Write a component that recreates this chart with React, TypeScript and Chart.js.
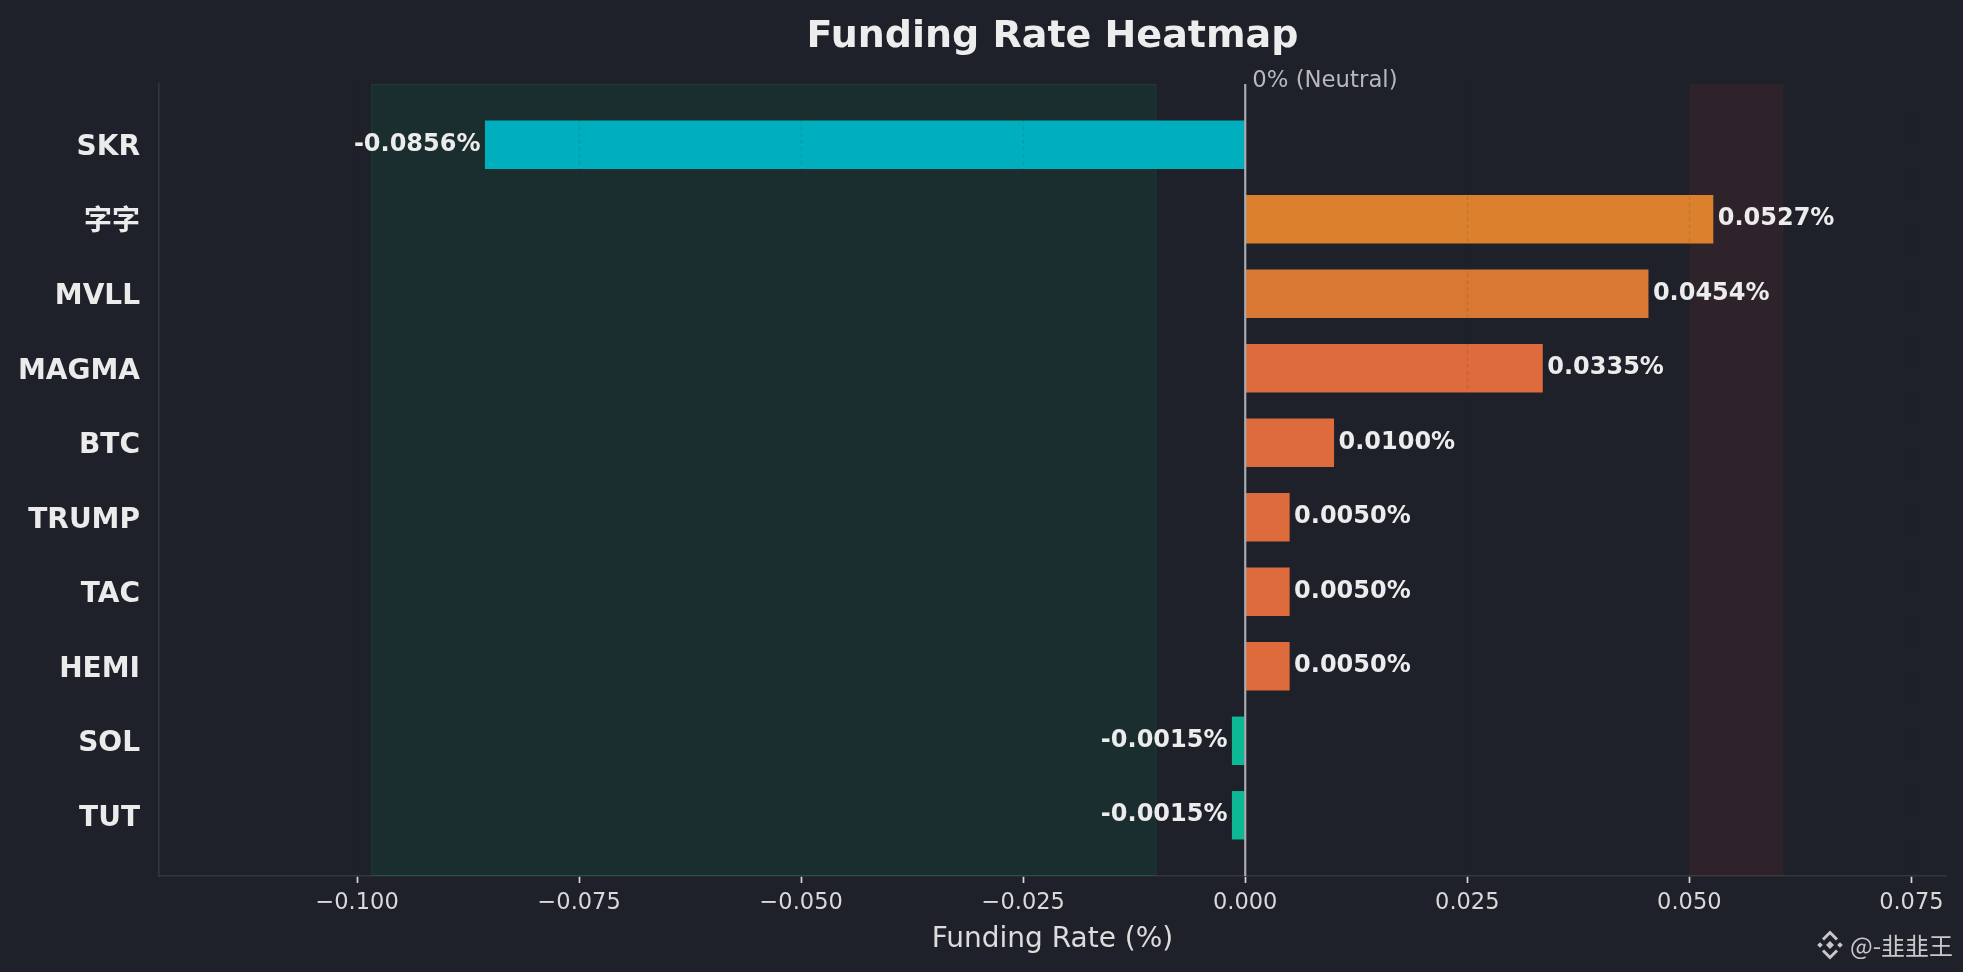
import React, { useEffect, useRef } from 'react';
import { Chart, registerables } from 'chart.js';

Chart.register(...registerables);

// ---- data ----
const symbols = ['SKR', '字字', 'MVLL', 'MAGMA', 'BTC', 'TRUMP', 'TAC', 'HEMI', 'SOL', 'TUT'];
const fundingRates = [-0.0856, 0.0527, 0.0454, 0.0335, 0.01, 0.005, 0.005, 0.005, -0.0015, -0.0015];
const barColors = ['#00afbe', '#db812e', '#d97832', '#dd6b3b', '#de6b3b', '#de6b3b', '#de6b3b', '#de6b3b', '#0db894', '#0db894'];
const xTickValues = [-0.1, -0.075, -0.05, -0.025, 0, 0.025, 0.05, 0.075];
const xLimits = [-0.1223, 0.0789];
const yLimits = [-0.815, 9.815];
const longZone = [-0.0984, -0.01];
const shortZone = [0.05, 0.0606];
const titleText = 'Funding Rate Heatmap';
const xTitleText = 'Funding Rate (%)';
const neutralText = '0% (Neutral)';
const watermarkText = '@-韭韭王';

const FONT = "'DejaVu Sans', 'Noto Sans CJK SC', sans-serif";
const BG = '#1e2129';

const overlayPlugin = {
  id: 'overlay',
  beforeDatasetsDraw(chart: any) {
    const { ctx, chartArea: a, scales } = chart;
    const x = scales.x;
    ctx.save();
    const g0 = x.getPixelForValue(longZone[0]);
    const g1 = x.getPixelForValue(longZone[1]);
    ctx.fillStyle = 'rgba(0,180,110,0.09)';
    ctx.fillRect(g0, a.top, g1 - g0, a.bottom - a.top);
    ctx.strokeStyle = 'rgba(0,180,110,0.12)';
    ctx.lineWidth = 1;
    ctx.strokeRect(g0 + 0.5, a.top + 0.5, g1 - g0 - 1, a.bottom - a.top - 1);
    const r0 = x.getPixelForValue(shortZone[0]);
    const r1 = x.getPixelForValue(shortZone[1]);
    ctx.fillStyle = 'rgba(239,68,68,0.08)';
    ctx.fillRect(r0, a.top, r1 - r0, a.bottom - a.top);
    ctx.restore();
  },
  afterDatasetsDraw(chart: any) {
    const { ctx, chartArea: a, scales } = chart;
    const x = scales.x;
    const y = scales.y;
    ctx.save();
    // faint dashed grid
    ctx.strokeStyle = 'rgba(30,33,41,0.12)';
    ctx.lineWidth = 1.2;
    ctx.setLineDash([4, 3]);
    xTickValues.forEach((v) => {
      const px = Math.round(x.getPixelForValue(v)) + 0.5;
      ctx.beginPath();
      ctx.moveTo(px, a.top);
      ctx.lineTo(px, a.bottom);
      ctx.stroke();
    });
    ctx.setLineDash([]);
    // zero line
    const zx = x.getPixelForValue(0);
    ctx.strokeStyle = '#a9abb0';
    ctx.lineWidth = 2.2;
    ctx.beginPath();
    ctx.moveTo(zx, a.top);
    ctx.lineTo(zx, a.bottom);
    ctx.stroke();
    // value labels
    ctx.font = `bold 24px ${FONT}`;
    ctx.fillStyle = '#ececec';
    ctx.textBaseline = 'alphabetic';
    fundingRates.forEach((v, i) => {
      const cy = y.getPixelForValue(i);
      const label = (v < 0 ? '-' : '') + Math.abs(v).toFixed(4) + '%';
      if (v >= 0) {
        ctx.textAlign = 'left';
        ctx.fillText(label, x.getPixelForValue(v + 0.0005), cy + 6);
      } else {
        ctx.textAlign = 'right';
        ctx.fillText(label, x.getPixelForValue(v - 0.0005), cy + 6);
      }
    });
    ctx.restore();
  },
  afterDraw(chart: any) {
    const { ctx, chartArea: a, scales } = chart;
    const x = scales.x;
    const cx = (a.left + a.right) / 2;
    ctx.save();
    // title
    ctx.font = `bold 38px ${FONT}`;
    ctx.fillStyle = '#ededed';
    ctx.textAlign = 'center';
    ctx.textBaseline = 'alphabetic';
    ctx.fillText(titleText, cx, 47);
    // x-axis title
    ctx.font = `28px ${FONT}`;
    ctx.fillStyle = '#dcdcdc';
    ctx.fillText(xTitleText, cx, 947);
    // neutral label
    ctx.font = `22.8px ${FONT}`;
    ctx.fillStyle = '#b6b8bc';
    ctx.textAlign = 'left';
    ctx.fillText(neutralText, x.getPixelForValue(0) + 7, a.top + 3);
    // watermark
    const wx = 1830;
    const wy = 945;
    ctx.fillStyle = '#c8c8c8';
    ctx.strokeStyle = '#c8c8c8';
    const diamond = (dx: number, dy: number, r: number) => {
      ctx.beginPath();
      ctx.moveTo(wx + dx, wy + dy - r);
      ctx.lineTo(wx + dx + r, wy + dy);
      ctx.lineTo(wx + dx, wy + dy + r);
      ctx.lineTo(wx + dx - r, wy + dy);
      ctx.closePath();
      ctx.fill();
    };
    diamond(0, 0, 4);
    diamond(-10, 0, 2.8);
    diamond(10, 0, 2.8);
    ctx.lineWidth = 3;
    ctx.beginPath();
    ctx.moveTo(wx - 7, wy - 5.5);
    ctx.lineTo(wx, wy - 12.5);
    ctx.lineTo(wx + 7, wy - 5.5);
    ctx.stroke();
    ctx.beginPath();
    ctx.moveTo(wx - 7, wy + 5.5);
    ctx.lineTo(wx, wy + 12.5);
    ctx.lineTo(wx + 7, wy + 5.5);
    ctx.stroke();
    ctx.font = `24px 'Noto Sans CJK SC', ${FONT}`;
    ctx.textAlign = 'left';
    ctx.textBaseline = 'middle';
    ctx.fillText(watermarkText, 1850, wy + 1);
    ctx.restore();
  },
};

export default function App() {
  const canvasRef = useRef<HTMLCanvasElement | null>(null);

  useEffect(() => {
    document.body.style.margin = '0';
    document.body.style.background = BG;
    const canvas = canvasRef.current;
    if (!canvas) return;
    const chart = new Chart(canvas, {
      type: 'bar',
      data: {
        datasets: [
          {
            data: fundingRates.map((v, i) => ({ x: v, y: i })),
            backgroundColor: barColors,
            borderWidth: 0,
            categoryPercentage: 1,
            barPercentage: 0.65,
          } as any,
        ],
      },
      options: {
        indexAxis: 'y',
        animation: false,
        responsive: false,
        maintainAspectRatio: false,
        events: [],
        layout: { padding: { left: 0, top: 84, right: 17, bottom: 0 } },
        plugins: {
          legend: { display: false },
          tooltip: { enabled: false },
          title: { display: false },
        },
        scales: {
          x: {
            type: 'linear',
            position: 'bottom',
            min: xLimits[0],
            max: xLimits[1],
            offset: false,
            afterBuildTicks: (axis: any) => {
              axis.ticks = xTickValues.map((v) => ({ value: v }));
            },
            afterFit: (s: any) => {
              s.height = 96;
            },
            grid: {
              display: true,
              offset: false,
              drawOnChartArea: false,
              drawTicks: true,
              tickLength: 7,
              tickColor: '#d8d8d8',
              tickWidth: 1.7,
            },
            border: { display: true, color: '#33363e', width: 1.6 },
            ticks: {
              autoSkip: false,
              maxRotation: 0,
              padding: 7,
              color: '#d9d9d9',
              font: { family: FONT, size: 22.5 },
              callback: (v: any) => (Number(v) < -1e-9 ? '\u2212' : '') + Math.abs(Number(v)).toFixed(3),
            },
          },
          y: {
            type: 'linear',
            position: 'left',
            reverse: true,
            offset: false,
            min: yLimits[0],
            max: yLimits[1],
            afterBuildTicks: (axis: any) => {
              axis.ticks = symbols.map((_, i) => ({ value: i }));
            },
            afterFit: (s: any) => {
              s.width = 159;
            },
            grid: { display: false, offset: false, drawTicks: false, drawOnChartArea: false },
            border: { display: true, color: '#33363e', width: 1.6 },
            ticks: {
              autoSkip: false,
              padding: 19,
              labelOffset: 3,
              color: '#ebebeb',
              font: { family: FONT, size: 28, weight: 'bold' },
              callback: (v: any) => symbols[Math.round(Number(v))] ?? '',
            },
          },
        },
      } as any,
      plugins: [overlayPlugin],
    });
    return () => chart.destroy();
  }, []);

  return (
    <div style={{ position: 'fixed', left: 0, top: 0, width: 1963, height: 972, background: BG }}>
      <canvas ref={canvasRef} width={1963} height={972} style={{ width: 1963, height: 972, display: 'block' }} />
    </div>
  );
}
